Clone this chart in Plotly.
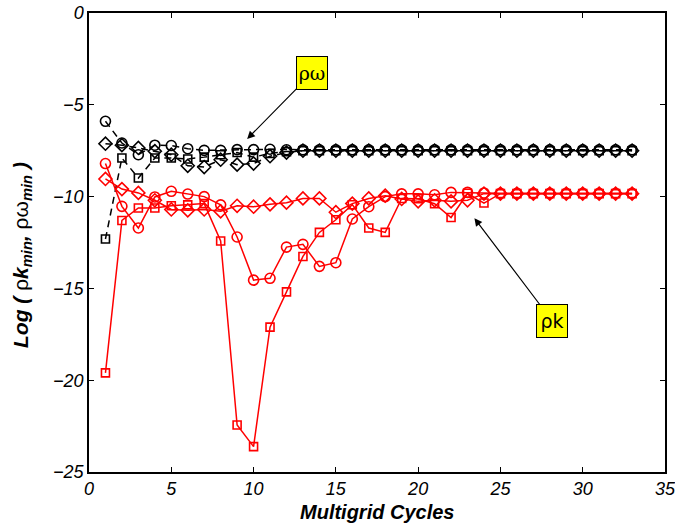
import plotly.graph_objects as go

# Multigrid convergence history: log10 of the minimum rho*k and rho*omega values
cycles = list(range(1, 34))

# rho*omega (black, dashed)
rw_circle = [-5.9, -7.08, -7.72, -7.2, -7.22, -7.39, -7.48, -7.48, -7.44, -7.44, -7.42,
             -7.45, -7.45, -7.45, -7.45, -7.45, -7.45, -7.45, -7.45, -7.45, -7.45, -7.45,
             -7.45, -7.45, -7.45, -7.45, -7.45, -7.45, -7.45, -7.45, -7.45, -7.45, -7.45]
rw_diamond = [-7.12, -7.2, -7.35, -7.53, -7.72, -8.32, -8.39, -7.99, -8.26, -8.2, -7.8,
              -7.6, -7.5, -7.5, -7.5, -7.5, -7.5, -7.5, -7.5, -7.5, -7.5, -7.5,
              -7.5, -7.5, -7.5, -7.5, -7.5, -7.5, -7.5, -7.5, -7.5, -7.5, -7.5]
rw_square = [-12.31, -7.9, -8.99, -7.9, -7.9, -7.95, -7.85, -7.72, -7.6, -7.85, -7.65,
             -7.55, -7.5, -7.5, -7.5, -7.5, -7.5, -7.5, -7.5, -7.5, -7.5, -7.5,
             -7.5, -7.5, -7.5, -7.5, -7.5, -7.5, -7.5, -7.5, -7.5, -7.5, -7.5]

# rho*k (red, solid)
rk_circle = [-8.2, -10.53, -11.71, -10.02, -9.71, -9.86, -10.0, -10.45, -12.2, -14.55, -14.45,
             -12.75, -12.6, -13.8, -13.6, -11.22, -10.55, -10.0, -9.85, -9.85, -9.9, -9.77,
             -9.77, -9.8, -9.82, -9.82, -9.82, -9.82, -9.82, -9.82, -9.82, -9.82, -9.82]
rk_diamond = [-9.04, -9.59, -9.8, -10.2, -10.7, -10.75, -10.7, -10.8, -10.5, -10.55, -10.42,
              -10.33, -10.1, -10.1, -10.85, -10.38, -10.1, -9.95, -10.13, -10.26, -10.2, -10.26,
              -10.2, -9.84, -9.84, -9.84, -9.84, -9.84, -9.84, -9.84, -9.84, -9.84, -9.84]
rk_square = [-19.6, -11.3, -10.62, -10.62, -10.5, -10.45, -10.38, -12.42, -22.44, -23.62, -17.11,
             -15.19, -13.26, -11.95, -11.26, -10.44, -11.71, -11.95, -10.1, -10.12, -10.39, -11.14,
             -9.82, -10.35, -9.84, -9.84, -9.84, -9.84, -9.84, -9.84, -9.84, -9.84, -9.84]

x_ticks = [0, 5, 10, 15, 20, 25, 30, 35]
y_ticks = [0, -5, -10, -15, -20, -25]

FONT = "Liberation Sans, Arial, sans-serif"
RED = "#ff0000"
BLACK = "#000000"

# plot-area geometry in pixels (used to place the axis titles)
PLOT_L, PLOT_R, PLOT_T, PLOT_B = 89, 665, 13, 472
PW, PH = PLOT_R - PLOT_L, PLOT_B - PLOT_T

fig = go.Figure()


def add_series(y, color, symbol, size, dash):
    fig.add_trace(go.Scatter(
        x=cycles, y=y, mode="lines+markers",
        line=dict(color=color, width=1.5, dash=dash),
        marker=dict(symbol=symbol, size=size, color=color,
                    line=dict(color=color, width=1.6)),
        showlegend=False, cliponaxis=False,
    ))


add_series(rw_square, BLACK, "square-open", 8, "7px,5px")
add_series(rw_diamond, BLACK, "diamond-open", 10, "7px,5px")
add_series(rw_circle, BLACK, "circle-open", 10, "7px,5px")
add_series(rk_square, RED, "square-open", 8, "solid")
add_series(rk_diamond, RED, "diamond-open", 10, "solid")
add_series(rk_circle, RED, "circle-open", 10, "solid")

axis_common = dict(
    showgrid=False, zeroline=False, showline=True, linecolor="black", linewidth=1.5,
    mirror="ticks", ticks="inside", ticklen=5, tickwidth=1.2, tickcolor="black",
    tickfont=dict(family=FONT, size=18, color="black"), automargin=False,
    ticklabeloverflow="allow",
)

fig.update_xaxes(
    range=[0, 35], tickvals=x_ticks, ticktext=["<i>%d</i>" % v for v in x_ticks],
    **axis_common,
)
fig.update_yaxes(
    range=[-25, 0], tickvals=y_ticks,
    ticktext=["<i>0</i>" if v == 0 else "<i>\u2212%d</i>" % (-v) for v in y_ticks],
    **axis_common,
)

# axis titles
fig.add_annotation(
    x=0.5, y=(PLOT_B - 512) / PH, xref="paper", yref="paper",
    xanchor="center", yanchor="middle",
    text="<b><i>Multigrid Cycles</i></b>", showarrow=False,
    font=dict(family=FONT, size=20, color="black"),
)
fig.add_annotation(
    x=(22 - PLOT_L) / PW, y=(PLOT_B - 255) / PH, xref="paper", yref="paper",
    xanchor="center", yanchor="middle", showarrow=False, textangle=-90,
    text="<b><i>Log ( </i></b>\u03c1<b><i>k<sub>min</sub>, </i></b>\u03c1\u03c9<b><i><sub>min</sub> )</i></b>",
    font=dict(family=FONT, size=21, color="black"),
)

fig.add_annotation(
    x=9.61, y=-6.86, xref="x", yref="y", text="\u03c1\u03c9", showarrow=True,
    ax=65, ay=-66, axref="pixel", ayref="pixel",
    arrowhead=2, arrowsize=1.3, arrowwidth=1.2, arrowcolor="black", standoff=0,
    font=dict(family="DejaVu Serif, serif", size=19, color="black"),
    width=28, height=30, bgcolor="#ffff00", bordercolor="black", borderwidth=1, borderpad=1,
)
fig.add_annotation(
    x=23.42, y=-11.18, xref="x", yref="y", text="\u03c1k", showarrow=True,
    ax=78, ay=103, axref="pixel", ayref="pixel",
    arrowhead=2, arrowsize=1.3, arrowwidth=1.2, arrowcolor="black", standoff=0,
    font=dict(family="DejaVu Sans, sans-serif", size=19, color="black"),
    width=28, height=30, bgcolor="#ffff00", bordercolor="black", borderwidth=1, borderpad=1,
)

fig.update_layout(
    width=675, height=526,
    margin=dict(l=PLOT_L, r=675 - PLOT_R, t=PLOT_T, b=526 - PLOT_B),
    paper_bgcolor="white", plot_bgcolor="white",
    font=dict(family=FONT, color="black"),
)

fig.write_html("out.html")
